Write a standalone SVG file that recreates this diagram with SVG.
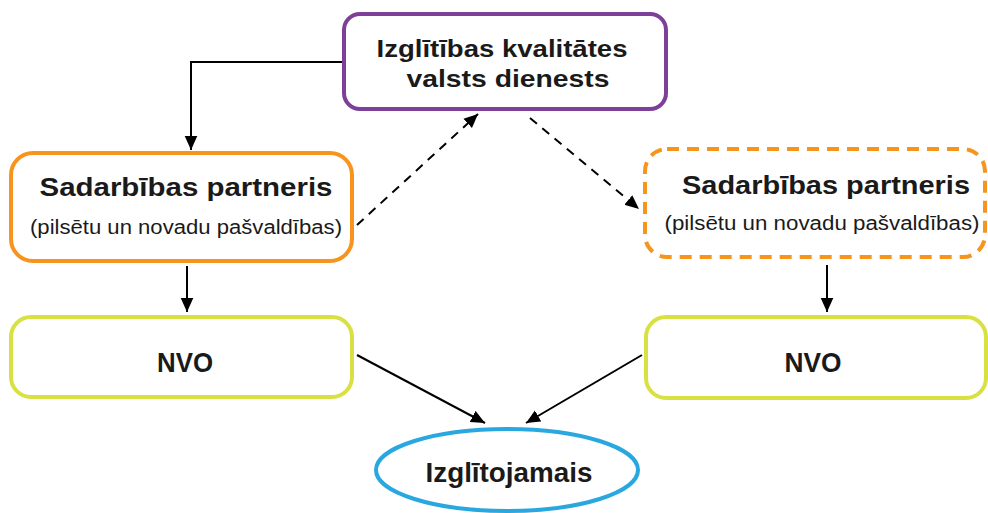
<svg xmlns="http://www.w3.org/2000/svg" width="988" height="513" viewBox="0 0 988 513">
<style>
.t{font-family:"Liberation Sans",Arial,sans-serif;fill:#1a1a1a;text-anchor:middle}
.b{font-weight:bold}
.c{stroke:#000;stroke-width:2;fill:none}
.d{stroke-dasharray:9 7}
</style>
<defs>
<marker id="a" viewBox="0 0 10 10" refX="10" refY="5" markerWidth="14" markerHeight="14" markerUnits="userSpaceOnUse" orient="auto">
<path d="M0,0.5 L10,5 L0,9.5 z" fill="#000"/>
</marker>
</defs>
<rect width="988" height="513" fill="#fff"/>
<g id="connectors">
<polyline class="c" points="343,62 191,62 191,150" marker-end="url(#a)"/>
<line class="c d" x1="357" y1="225" x2="478" y2="114" marker-end="url(#a)"/>
<line class="c d" x1="530" y1="118" x2="639" y2="209" marker-end="url(#a)"/>
<line class="c" x1="187" y1="266" x2="187" y2="312" marker-end="url(#a)"/>
<line class="c" x1="827" y1="265" x2="827" y2="312" marker-end="url(#a)"/>
<line class="c" x1="357" y1="355" x2="485" y2="423" marker-end="url(#a)"/>
<line class="c" x1="642" y1="355" x2="526" y2="423" marker-end="url(#a)"/>
</g>
<g id="node-ikvd">
<rect x="344" y="14" width="322" height="95" rx="16" fill="#fff" stroke="#7D3F98" stroke-width="4"/>
<text class="t b" x="502" y="57" font-size="24" textLength="251" lengthAdjust="spacingAndGlyphs">Izglītības kvalitātes</text>
<text class="t b" x="508" y="87" font-size="24" textLength="203" lengthAdjust="spacingAndGlyphs">valsts dienests</text>
</g>
<g id="node-partner-left">
<rect x="11" y="153" width="341" height="108" rx="22" fill="#fff" stroke="#F7941D" stroke-width="4"/>
<text class="t b" x="186" y="196" font-size="25" textLength="293" lengthAdjust="spacingAndGlyphs">Sadarbības partneris</text>
<text class="t" x="186" y="234" font-size="20" textLength="312" lengthAdjust="spacingAndGlyphs">(pilsētu un novadu pašvaldības)</text>
</g>
<g id="node-partner-right">
<rect x="645" y="149" width="340" height="108" rx="22" fill="#fff" stroke="#F7941D" stroke-width="4" stroke-dasharray="12 8"/>
<text class="t b" x="826" y="194" font-size="25" textLength="288" lengthAdjust="spacingAndGlyphs">Sadarbības partneris</text>
<text class="t" x="822" y="230" font-size="20" textLength="315" lengthAdjust="spacingAndGlyphs">(pilsētu un novadu pašvaldības)</text>
</g>
<g id="node-nvo-left">
<rect x="11" y="317" width="341" height="80" rx="20" fill="#fff" stroke="#D9E142" stroke-width="4"/>
<text class="t b" x="185" y="372" font-size="28" textLength="56" lengthAdjust="spacingAndGlyphs">NVO</text>
</g>
<g id="node-nvo-right">
<rect x="646" y="317" width="340" height="81" rx="20" fill="#fff" stroke="#D9E142" stroke-width="4"/>
<text class="t b" x="813" y="372" font-size="28" textLength="57" lengthAdjust="spacingAndGlyphs">NVO</text>
</g>
<g id="node-izglitojamais">
<ellipse cx="507" cy="470" rx="131" ry="41" fill="#fff" stroke="#29A8E0" stroke-width="4"/>
<text class="t b" x="509" y="482" font-size="27" textLength="167" lengthAdjust="spacingAndGlyphs">Izglītojamais</text>
</g>
</svg>
